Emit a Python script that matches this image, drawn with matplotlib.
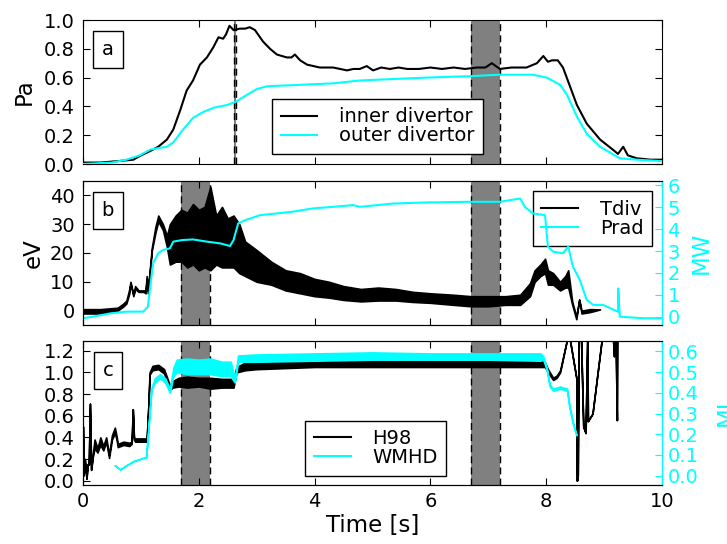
import matplotlib
matplotlib.use("Agg")
import matplotlib.pyplot as plt

# ---- panel a : pressures [Pa]
t_in = [0, 0.3, 0.6, 0.87, 1.0, 1.16, 1.3, 1.45, 1.56, 1.68,
        1.79, 1.9, 2.02, 2.14, 2.25, 2.34, 2.42, 2.47, 2.53, 2.6,
        2.71, 2.8, 2.88, 2.97, 3.04, 3.11, 3.23, 3.35, 3.52, 3.6,
        3.66, 3.75, 3.87, 4.09, 4.32, 4.56, 4.67, 4.78, 4.9, 5.01,
        5.15, 5.3, 5.45, 5.6, 5.8, 6.0, 6.2, 6.4, 6.6, 6.8,
        6.95, 7.06, 7.2, 7.4, 7.66, 7.84, 7.95, 8.03, 8.1, 8.2,
        8.29, 8.41, 8.53, 8.7, 8.93, 9.15, 9.24, 9.33, 9.41, 9.56,
        9.8, 10]
p_inner = [0.01, 0.01, 0.02, 0.03, 0.06, 0.09, 0.12, 0.17, 0.24, 0.375,
           0.51, 0.58, 0.69, 0.74, 0.81, 0.88, 0.87, 0.90, 0.96, 0.93,
           0.94, 0.94, 0.95, 0.93, 0.89, 0.85, 0.80, 0.76, 0.74, 0.74,
           0.76, 0.72, 0.69, 0.67, 0.67, 0.65, 0.66, 0.66, 0.68, 0.65,
           0.67, 0.66, 0.67, 0.66, 0.66, 0.67, 0.66, 0.67, 0.66, 0.67,
           0.67, 0.70, 0.66, 0.67, 0.67, 0.70, 0.75, 0.71, 0.72, 0.72,
           0.67, 0.54, 0.41, 0.28, 0.17, 0.10, 0.07, 0.12, 0.06, 0.04,
           0.03, 0.03]
t_out = [0, 0.5, 0.75, 0.98, 1.16, 1.3, 1.45, 1.56, 1.73, 1.9,
         2.07, 2.25, 2.49, 2.63, 2.83, 3.0, 3.18, 3.75, 4.32, 4.78,
         5.35, 5.94, 6.68, 7.2, 7.77, 8.01, 8.24, 8.36, 8.53, 8.7,
         8.93, 9.27, 9.56, 10]
p_outer = [0.0, 0.01, 0.03, 0.06, 0.10, 0.11, 0.12, 0.15, 0.24, 0.32,
           0.36, 0.39, 0.41, 0.43, 0.48, 0.52, 0.54, 0.55, 0.56, 0.58,
           0.59, 0.60, 0.61, 0.62, 0.62, 0.60, 0.55, 0.48, 0.33, 0.21,
           0.12, 0.04, 0.03, 0.02]

# ---- panel b : Tdiv [eV] (noisy -> lower/upper envelope), Prad [MW]
t_tdiv = [0, 0.3, 0.6, 0.7, 0.75, 0.8, 0.82, 0.87, 0.9, 0.96,
          1.05, 1.08, 1.1, 1.12, 1.19, 1.25, 1.3, 1.38, 1.45, 1.5,
          1.6, 1.7, 1.8, 1.9, 2.0, 2.1, 2.2, 2.3, 2.4, 2.5,
          2.6, 2.7, 2.8, 3.0, 3.25, 3.5, 3.75, 4.0, 4.25, 4.5,
          4.8, 5.1, 5.4, 5.7, 6.0, 6.4, 6.7, 7.0, 7.3, 7.55,
          7.72, 7.8, 7.9, 7.98, 8.03, 8.12, 8.24, 8.33, 8.38, 8.45,
          8.52, 8.57, 8.61, 8.76, 8.93]
tdiv_lo = [-1, -1, 0, 1.5, 2.5, 6, 9.5, 5, 7.5, 6.5,
           6.5, 6, 11, 6, 21, 27, 31, 28, 22, 16,
           17, 17, 15, 16, 14, 15, 14, 16, 15, 15,
           15, 13, 12, 10, 9, 7, 6, 5, 4.5, 3.7,
           3.2, 3.5, 3.5, 3, 2.7, 2, 1.5, 1.5, 2, 2,
           5, 10, 12, 13, 9, 9, 7, 8, 8, 2,
           -3, 3.8, -1, -0.5, 0.4]
tdiv_hi = [0.5, 0.5, 1, 2.5, 3.5, 7.5, 10, 5.5, 8.5, 7,
           7, 7, 12, 7, 22, 29, 33, 30, 26, 30,
           33, 35, 34, 37, 35, 36, 43, 33, 36, 32,
           33, 30, 24, 21, 17, 14, 13, 11, 10, 8.5,
           7.5, 8, 7.5, 6.5, 6, 5.5, 5, 5, 5, 5.5,
           9.5, 14, 16, 18, 14, 13, 10, 12, 14, 3,
           -2, 3.8, 0, 0.5, 0.4]
t_prad = [0, 0.17, 0.47, 0.75, 1.04, 1.12, 1.21, 1.3, 1.38, 1.5,
          1.56, 1.71, 1.9, 2.14, 2.37, 2.54, 2.6, 2.68, 2.8, 3.06,
          3.35, 3.63, 3.98, 4.32, 4.67, 4.78, 5.36, 5.94, 6.68, 7.2,
          7.55, 7.63, 7.77, 7.98, 8.03, 8.12, 8.29, 8.38, 8.46, 8.58,
          8.7, 8.81, 8.98, 9.24, 9.245, 9.27, 9.67, 10]
prad = [-0.07, 0.0, 0.15, 0.23, 0.23, 0.45, 2.44, 2.9, 3.05, 3.12,
        3.43, 3.5, 3.53, 3.43, 3.35, 3.23, 3.5, 4.26, 4.41, 4.64,
        4.72, 4.8, 4.95, 5.02, 5.1, 5.02, 5.17, 5.22, 5.25, 5.25,
        5.4, 5.02, 4.72, 4.64, 3.2, 2.97, 2.9, 3.2, 2.3, 1.68,
        0.77, 0.54, 0.54, 0.23, 1.29, 0.0, -0.07, -0.07]

# ---- panel c : H98 (envelope), WMHD [MJ] (envelope)
t_h98 = [0.0, 0.01, 0.03, 0.06, 0.08, 0.1, 0.12, 0.14, 0.17, 0.2,
         0.25, 0.3, 0.35, 0.4, 0.45, 0.5, 0.55, 0.58, 0.6, 0.7,
         0.8, 0.84, 0.86, 0.88, 0.9, 1.0, 1.1, 1.13, 1.15, 1.2,
         1.3, 1.4, 1.5, 1.55, 1.65, 1.8, 2.0, 2.2, 2.4, 2.6,
         2.65, 2.8, 3.0, 4.0, 5.0, 6.0, 7.0, 7.9, 7.98, 8.03,
         8.12, 8.18, 8.24, 8.37, 8.40, 8.52, 8.53, 8.545, 8.56, 8.6,
         8.64, 8.68, 8.71, 8.72, 8.8, 8.97, 9.15, 9.17, 9.2, 9.22,
         9.225]
h98_lo = [0.5, 0.05, 0.2, 0.02, 0.15, 0.15, 0.71, 0.1, 0.22, 0.3,
          0.26, 0.33, 0.28, 0.36, 0.21, 0.38, 0.44, 0.38, 0.31, 0.33,
          0.32, 0.34, 0.66, 0.38, 0.36, 0.36, 0.36, 0.7, 0.98, 1.02,
          1.03, 0.99, 0.84, 0.86, 0.87, 0.86, 0.87, 0.85, 0.86, 0.86,
          1.0, 1.02, 1.03, 1.05, 1.05, 1.05, 1.05, 1.05, 1.05, 1.0,
          0.93, 0.95, 1.0, 1.33, 1.33, 0.95, 0.0, 0.05, 1.35, 1.35,
          0.5, 0.44, 1.35, 0.55, 0.62, 1.35, 1.35, 1.15, 1.3, 0.56,
          1.35]
h98_hi = [0.5, 0.05, 0.2, 0.02, 0.15, 0.15, 0.71, 0.1, 0.25, 0.38,
          0.3, 0.4, 0.32, 0.4, 0.24, 0.42, 0.49, 0.41, 0.34, 0.36,
          0.35, 0.36, 0.66, 0.4, 0.39, 0.39, 0.39, 0.7, 1.0, 1.06,
          1.07, 1.03, 0.88, 0.92, 0.95, 0.96, 0.95, 0.95, 0.94, 0.94,
          1.05, 1.09, 1.1, 1.11, 1.12, 1.12, 1.12, 1.11, 1.09, 1.03,
          0.95, 0.97, 1.02, 1.33, 1.33, 0.95, 0.0, 0.05, 1.35, 1.35,
          0.5, 0.44, 1.35, 0.55, 0.62, 1.35, 1.35, 1.15, 1.3, 0.56,
          1.35]
t_wmhd = [0.55, 0.64, 0.75, 0.87, 0.98, 1.09, 1.12, 1.18, 1.24, 1.33,
          1.42, 1.5, 1.56, 1.62, 1.8, 2.0, 2.2, 2.4, 2.55, 2.62,
          2.68, 3.0, 4.0, 5.0, 6.0, 7.0, 7.9, 7.95, 8.01, 8.06,
          8.12, 8.24, 8.36, 8.4, 8.46, 8.52]
wmhd_lo = [0.05, 0.03, 0.05, 0.07, 0.08, 0.09, 0.19, 0.41, 0.45, 0.47,
           0.45, 0.40, 0.48, 0.50, 0.49, 0.49, 0.49, 0.48, 0.48, 0.45,
           0.55, 0.55, 0.555, 0.56, 0.56, 0.56, 0.555, 0.56, 0.51, 0.43,
           0.41, 0.42, 0.41, 0.33, 0.25, 0.195]
wmhd_hi = [0.05, 0.03, 0.05, 0.07, 0.08, 0.09, 0.19, 0.42, 0.47, 0.49,
           0.47, 0.42, 0.52, 0.56, 0.565, 0.56, 0.565, 0.55, 0.55, 0.47,
           0.58, 0.585, 0.59, 0.595, 0.59, 0.59, 0.59, 0.575, 0.52, 0.44,
           0.42, 0.43, 0.42, 0.34, 0.26, 0.2]

# time windows (shaded)
win_a = [(2.6, 2.65), (6.7, 7.2)]
win_bc = [(1.7, 2.2), (6.7, 7.2)]

cyan = '#00ffff'
fs = 14

fig = plt.figure(figsize=(7.27, 5.44), dpi=100)
L, W, H = 83/727., 579/727., 144/544.
ax_a = fig.add_axes([L, 1 - 164/544., W, H])
ax_b = fig.add_axes([L, 1 - 325/544., W, H])
ax_c = fig.add_axes([L, 1 - 485/544., W, H])


def style(ax, right=True):
    ax.tick_params(direction='in', length=5, labelsize=fs, top=True, right=right, pad=6)
    ax.tick_params(axis='x', pad=5)
    ax.set_xlim(0, 10)


def windows(ax, wins):
    for w in wins:
        ax.axvspan(w[0], w[1], color='gray', lw=0, zorder=1)
        ax.axvline(w[0], color='k', lw=1, dashes=(5, 3), zorder=1.5)
        ax.axvline(w[1], color='k', lw=1, dashes=(5, 3), zorder=1.5)


def panel_label(ax, s):
    ax.text(0.043, 0.795, s, transform=ax.transAxes, fontsize=fs, ha='center', va='center',
            bbox=dict(boxstyle='square,pad=0.45', fc='white', ec='k', lw=1))


leg_kw = dict(fontsize=fs, fancybox=False, framealpha=1, edgecolor='k',
              handlelength=1.9, handletextpad=1.1, labelspacing=0,
              borderpad=0.45, borderaxespad=0)

# panel a
style(ax_a)
windows(ax_a, win_a)
ax_a.plot(t_in, p_inner, color='k', lw=1.5, label='inner divertor', zorder=3)
ax_a.plot(t_out, p_outer, color=cyan, lw=1.5, label='outer divertor', zorder=3)
ax_a.set_ylim(0, 1.0)
ax_a.set_yticks([0, 0.2, 0.4, 0.6, 0.8, 1.0])
ax_a.set_xticklabels([])
ax_a.set_ylabel('Pa', fontsize=16.5, labelpad=6)
ax_a.legend(loc='lower right', bbox_to_anchor=(0.691, 0.069), **leg_kw)
panel_label(ax_a, 'a')

# panel b
style(ax_b, right=False)
windows(ax_b, win_bc)
ax_b.fill_between(t_tdiv, tdiv_lo, tdiv_hi, color='k', lw=1.2, zorder=3)
ax_b.set_ylim(-5, 45)
ax_b.set_yticks([0, 10, 20, 30, 40])
ax_b.set_xticklabels([])
ax_b.set_ylabel('eV', fontsize=16.5, labelpad=4)
panel_label(ax_b, 'b')
bb = ax_b.twinx()
bb.plot(t_prad, prad, color=cyan, lw=1.5)
bb.set_ylim(-0.38, 6.2)
bb.set_yticks([0, 1, 2, 3, 4, 5, 6])
bb.tick_params(direction='in', length=5, labelsize=fs, colors=cyan, pad=4)
bb.spines['right'].set_color(cyan)
bb.set_ylabel('MW', fontsize=16.5, color=cyan, labelpad=7)
h1, = ax_b.plot([], [], color='k', lw=1.5)
h2, = ax_b.plot([], [], color=cyan, lw=1.5)
ax_b.legend([h1, h2], ['Tdiv', 'Prad'], loc='upper right', bbox_to_anchor=(0.983, 0.931), **leg_kw)

# panel c
style(ax_c, right=False)
windows(ax_c, win_bc)
ax_c.fill_between(t_h98, h98_lo, h98_hi, color='k', lw=1.2, zorder=3)
ax_c.set_ylim(-0.04, 1.29)
ax_c.set_yticks([0, 0.2, 0.4, 0.6, 0.8, 1.0, 1.2])
ax_c.set_xlabel('Time [s]', fontsize=16.5, labelpad=2)
panel_label(ax_c, 'c')
cc = ax_c.twinx()
cc.fill_between(t_wmhd, wmhd_lo, wmhd_hi, color=cyan, lw=1.2)
cc.set_ylim(-0.045, 0.65)
cc.set_yticks([0, 0.1, 0.2, 0.3, 0.4, 0.5, 0.6])
cc.tick_params(direction='in', length=5, labelsize=fs, colors=cyan, pad=4)
cc.spines['right'].set_color(cyan)
cc.set_ylabel('MJ', fontsize=16.5, color=cyan, labelpad=12)
h3, = ax_c.plot([], [], color='k', lw=1.5)
h4, = ax_c.plot([], [], color=cyan, lw=1.5)
ax_c.legend([h3, h4], ['H98', 'WMHD'], loc='lower right', bbox_to_anchor=(0.627, 0.0625), **leg_kw)

for ax in (ax_a, ax_b, ax_c):
    ax.set_xticks([0, 2, 4, 6, 8, 10])

fig.savefig('out.png', dpi=100)
